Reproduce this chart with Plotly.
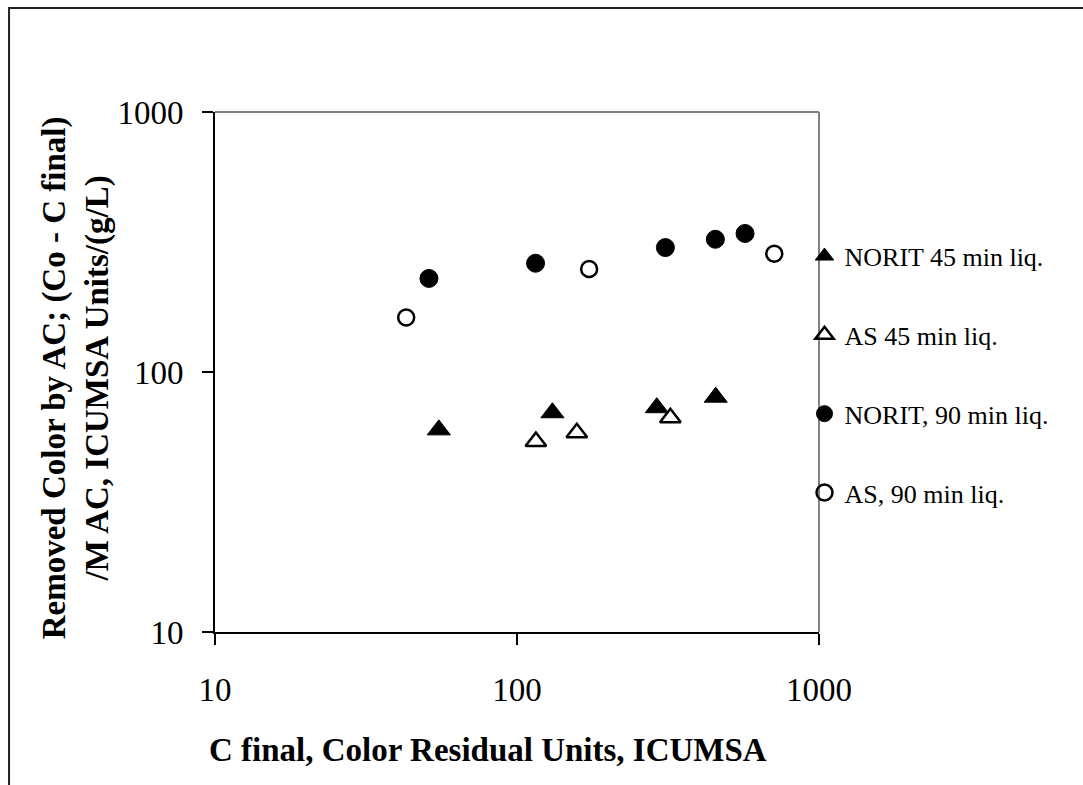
import plotly.graph_objects as go

# Data (log-log)
norit45_x = [55.1, 131.0, 290.3, 455.0]
norit45_y = [59.9, 69.7, 72.9, 80.0]
as45_x = [115.5, 157.8, 322.0]
as45_y = [54.0, 58.4, 66.7]
norit90_x = [51.1, 115.2, 310.0, 453.8, 569.0]
norit90_y = [229.0, 262.0, 301.0, 324.0, 341.0]
as90_x = [42.96, 173.3, 711.0]
as90_y = [162.0, 249.0, 284.8]

x_ticks = [10, 100, 1000]
y_ticks = [10, 100, 1000]

x_title = "C final, Color Residual Units, ICUMSA"
y_title = "Removed Color by AC; (Co - C final)<br>/M AC, ICUMSA Units/(g/L)"

SERIF = "Liberation Serif, Times New Roman, serif"

fig = go.Figure()
fig.add_trace(go.Scatter(x=norit45_x, y=norit45_y, mode="markers", name="NORIT 45 min liq.",
                         legendgroup="a",
                         marker=dict(symbol="triangle-up", size=20, color="black",
                                     line=dict(color="black", width=1))))
fig.add_trace(go.Scatter(x=as45_x, y=as45_y, mode="markers", name="AS 45 min liq.",
                         legendgroup="b",
                         marker=dict(symbol="triangle-up-open", size=18, color="black",
                                     line=dict(color="black", width=2.5))))
fig.add_trace(go.Scatter(x=norit90_x, y=norit90_y, mode="markers", name="NORIT, 90 min liq.",
                         legendgroup="c",
                         marker=dict(symbol="circle", size=18, color="black",
                                     line=dict(color="black", width=1))))
fig.add_trace(go.Scatter(x=as90_x, y=as90_y, mode="markers", name="AS, 90 min liq.",
                         legendgroup="d",
                         marker=dict(symbol="circle-open", size=16, color="black",
                                     line=dict(color="black", width=2.5))))

fig.update_layout(
    width=1083, height=785,
    margin=dict(l=215, r=264, t=112, b=153),
    paper_bgcolor="white", plot_bgcolor="white",
    font=dict(family=SERIF, color="black"),
    showlegend=True,
    legend=dict(x=0.976, y=0.768, xanchor="left", yanchor="top",
                font=dict(family=SERIF, size=26, color="black"),
                tracegroupgap=42, itemwidth=30, bgcolor="rgba(0,0,0,0)"),
    xaxis=dict(type="log", range=[1, 3], tickvals=x_ticks, ticktext=[str(v) for v in x_ticks],
               ticks="outside", ticklen=11, tickwidth=1.5, tickcolor="black",
               showline=True, linecolor="black", linewidth=2, showgrid=False, zeroline=False,
               tickfont=dict(family=SERIF, size=33, color="black"),
               ticklabelstandoff=16),
    yaxis=dict(type="log", range=[1, 3], tickvals=y_ticks, ticktext=[str(v) for v in y_ticks],
               ticks="outside", ticklen=11, tickwidth=1.5, tickcolor="black",
               showline=True, linecolor="black", linewidth=2, showgrid=False, zeroline=False,
               tickfont=dict(family=SERIF, size=33, color="black"),
               ticklabelstandoff=12),
    annotations=[
        dict(text="<b>" + x_title + "</b>", xref="paper", yref="paper",
             x=0.452, y=-0.227, xanchor="center", yanchor="middle", showarrow=False,
             font=dict(family=SERIF, size=33, color="black")),
        dict(text="<b>" + y_title + "</b>", xref="paper", yref="paper",
             x=-0.230, y=0.488, xanchor="center", yanchor="middle", showarrow=False,
             textangle=-90, align="center",
             font=dict(family=SERIF, size=33, color="black")),
    ],
    shapes=[
        dict(type="line", xref="paper", yref="paper", x0=0, x1=1, y0=1, y1=1,
             line=dict(color="#808080", width=2)),
        dict(type="line", xref="paper", yref="paper", x0=1, x1=1, y0=0, y1=1,
             line=dict(color="#808080", width=2)),
        dict(type="rect", xref="paper", yref="paper", x0=-0.341, x1=1.45, y0=-0.4, y1=1.2,
             line=dict(color="#222222", width=2), layer="below"),
    ],
)

fig.write_html("out.html")
